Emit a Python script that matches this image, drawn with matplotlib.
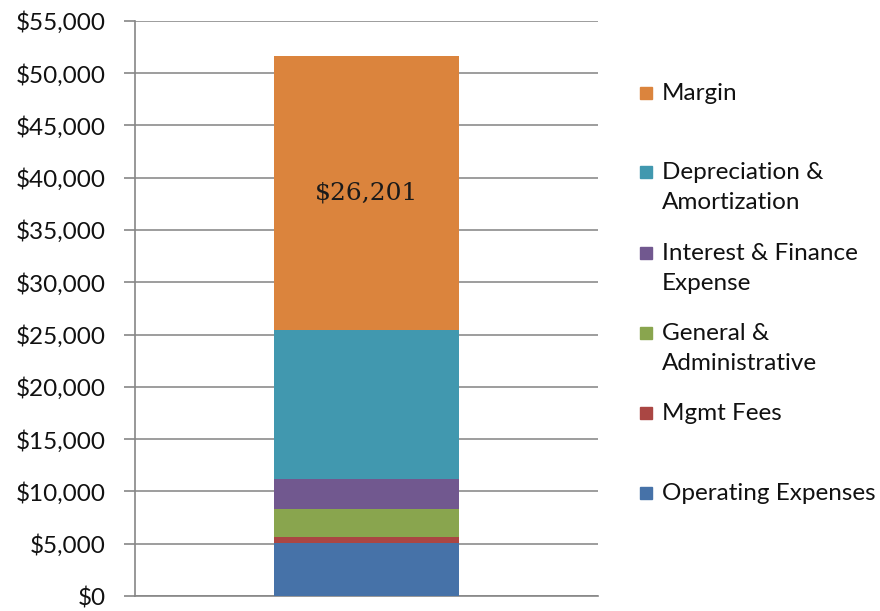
import numpy as np
import matplotlib.pyplot as plt
from matplotlib.patches import Rectangle

# Cost breakdown, stacked from the bottom up
categories = ['Operating Expenses', 'Mgmt Fees', 'General &\nAdministrative',
              'Interest & Finance\nExpense', 'Depreciation &\nAmortization', 'Margin']
values = np.array([5100, 570, 2620, 2870, 14240, 26201])
colors = ['#4672A8', '#AA4643', '#89A54E', '#71588F', '#4198AF', '#DB843D']

plt.rcParams['font.family'] = ['Lato', 'DejaVu Sans']

fig = plt.figure(figsize=(8.8, 6.11), dpi=100)
ax = fig.add_axes([0.1534, 0.0245, 0.526, 0.9415])

bottom = 0
bars = []
for val, col, lab in zip(values, colors, categories):
    b = ax.bar(0, val, width=0.4, bottom=bottom, color=col, label=lab, zorder=3)
    bars.append(b)
    bottom += val

# value label on the margin segment
ax.bar_label(bars[-1], labels=['${:,}'.format(values[-1])], label_type='center',
             fontsize=18, family='DejaVu Serif', color='#1a1a1a')

ax.set_xlim(-0.5, 0.5)
ax.set_ylim(0, 55000)
yt = np.arange(0, 55001, 5000)
ax.set_yticks(yt)
ax.set_yticklabels(['${:,}'.format(v) for v in yt])
ax.set_xticks([])
ax.tick_params(axis='y', length=8, width=1.2, color='#868686', labelsize=17.5,
               pad=13, labelcolor='#111111')
ax.grid(axis='y', color='#8C8C8C', linewidth=1.2, zorder=0)
for s in ['top', 'right']:
    ax.spines[s].set_visible(False)
for s in ['left', 'bottom']:
    ax.spines[s].set_color('#868686')
    ax.spines[s].set_linewidth(1.2)

# legend on the right, top entry first
ys = [93, 172, 253, 333, 413, 493]
for i, y in enumerate(ys):
    idx = len(categories) - 1 - i
    yf = 1 - y / 611
    fig.patches.append(Rectangle((640 / 880, yf - 6 / 611), 12 / 880, 12 / 611,
                                 transform=fig.transFigure, color=colors[idx]))
    fig.text(662 / 880, yf + 10 / 611, categories[idx], fontsize=17.5, va='top',
             ha='left', linespacing=1.55, color='#111111')

fig.savefig('out.png', dpi=100)
